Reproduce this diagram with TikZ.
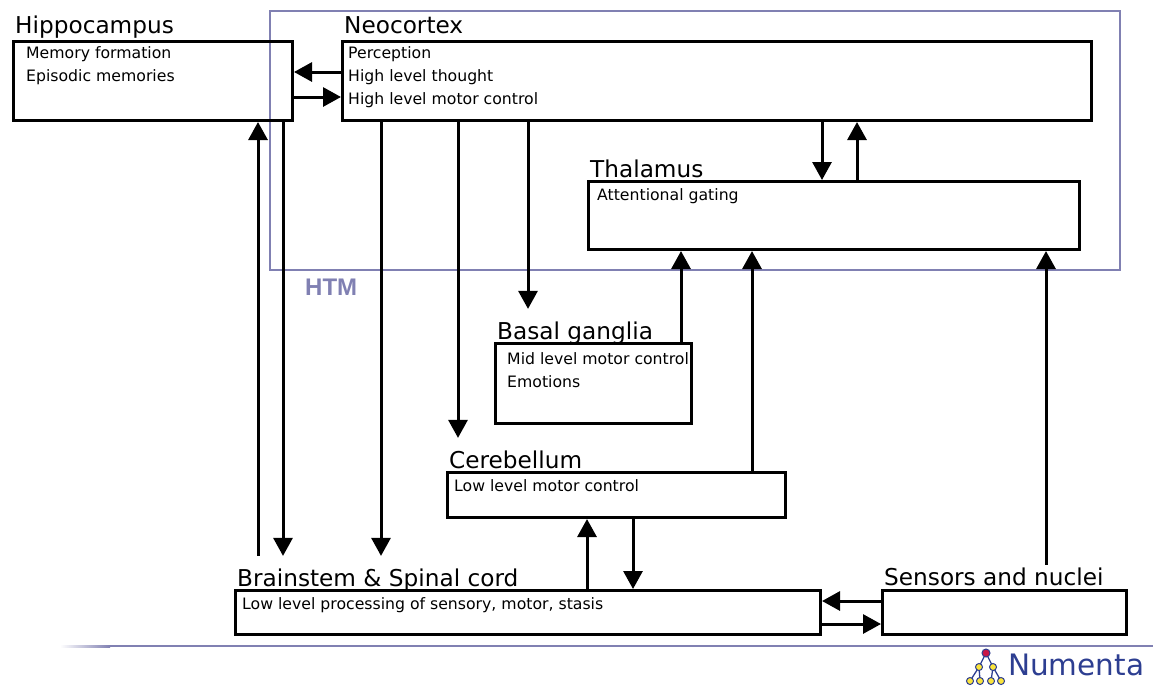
\documentclass[tikz,border=0pt]{standalone}
\usepackage{fontspec}
\setmainfont{DejaVu Sans}
\newfontfamily\htmfont{Liberation Sans}
\usetikzlibrary{arrows.meta}
\definecolor{htm}{RGB}{128,128,178}
\definecolor{numenta}{RGB}{45,62,145}
\definecolor{dotyellow}{RGB}{250,228,60}
\definecolor{dotred}{RGB}{200,20,70}
\tikzset{
  regionbox/.style={draw, line width=3pt, inner sep=0pt, anchor=north west},
  regiontitle/.style={anchor=base west, inner sep=0pt, outer ysep=13pt, font=\fontsize{23.2}{23}\selectfont},
  regiontext/.style={anchor=north west, inner sep=0pt, align=left, font=\fontsize{15.7}{23}\selectfont},
  arr/.style={line width=3pt, -{Triangle[length=18pt,width=19pt]}},
  logodot/.style={draw=numenta, line width=1pt, fill=dotyellow},
}
% name, x, y, width, height, title, title options, text shift, text
\newcommand{\region}[9]{
  \node[regionbox, minimum width=#4pt, minimum height=#5pt] (#1) at (#2,#3) {};
  \node[regiontitle, xshift=3pt, #7] (#1T) at (#1.north west) {#6};
  \node[regiontext] (#1X) at ([shift={(#8)}]#1.north west) {#9};
}
\begin{document}
\begin{tikzpicture}[x=1pt,y=-1pt]
\useasboundingbox (0,0) rectangle (1153,689);
\draw[htm, line width=2pt] (270,11) rectangle (1120,270);
\node[anchor=base west, inner sep=0pt, text=htm, font=\htmfont\bfseries\fontsize{24}{24}\selectfont] (htmL) at (305,295) {HTM};
\region{hippo}{12}{40}{279}{79}{Hippocampus}{yshift=6.5pt}{14,6.5}{Memory formation\\Episodic memories}
\region{neo}{341}{40}{749}{79}{Neocortex}{yshift=6.5pt}{7,6.5}{Perception\\High level thought\\High level motor control}
\region{thal}{587}{180}{491}{68}{Thalamus}{yshift=2.5pt}{10,8.5}{Attentional gating}
\region{basal}{494}{342}{196}{80}{Basal ganglia}{yshift=2.5pt}{13,10.5}{Mid level motor control\\Emotions}
\region{cereb}{446}{471}{338}{45}{Cerebellum}{yshift=2.5pt}{8,8.5}{Low level motor control}
\region{brain}{234}{589}{585}{44}{Brainstem \& Spinal cord}{yshift=2.5pt}{8,8.5}{Low level processing of sensory, motor, stasis}
\region{sens}{881}{589}{244}{44}{Sensors and nuclei}{yshift=3.5pt, outer ysep=3pt}{8,8.5}{}
% hippocampus <-> neocortex
\draw[arr] (neo.west |- 0,72) -- (hippo.east |- 0,72);
\draw[arr] (hippo.east |- 0,97) -- (neo.west |- 0,97);
% down to the brainstem
\draw[arr] (258,0 |- brainT.north) -- (258,0 |- hippo.south);
\draw[arr] (283,0 |- hippo.south) -- (283,0 |- brainT.north);
\draw[arr] (381,0 |- neo.south) -- (381,0 |- brainT.north);
\draw[arr] (458,0 |- neo.south) -- (458,0 |- cerebT.north);
\draw[arr] (528,0 |- neo.south) -- (528,0 |- basalT.north);
% thalamus
\draw[arr] (822,0 |- neo.south) -- (822,0 |- thal.north);
\draw[arr] (857,0 |- thal.north) -- (857,0 |- neo.south);
\draw[arr] (681,0 |- basal.north) -- (681,0 |- thal.south);
\draw[arr] (752,0 |- cereb.north) -- (752,0 |- thal.south);
\draw[arr] (1046,0 |- sensT.north) -- (1046,0 |- thal.south);
% brainstem, cerebellum, sensors
\draw[arr] (587,0 |- brain.north) -- (587,0 |- cereb.south);
\draw[arr] (633,0 |- cereb.south) -- (633,0 |- brain.north);
\draw[arr] (sens.west |- 0,601) -- (brain.east |- 0,601);
\draw[arr] (brain.east |- 0,624) -- (sens.west |- 0,624);
% footer
\shade[left color=white, right color=htm] (60,645) rectangle (110,647);
\draw[htm, line width=2pt] (110,646) -- (1153,646);
\coordinate (lgtop) at (986,653);
\coordinate (lgl) at (979,667);
\coordinate (lgr) at (993,667);
\draw[numenta, line width=1.3pt] (lgl) -- (lgtop) -- (lgr);
\foreach \x in {970,980}{\draw[numenta, line width=1.3pt] (lgl) -- (\x,681);}
\foreach \x in {991,1001}{\draw[numenta, line width=1.3pt] (lgr) -- (\x,681);}
\foreach \x in {970,980,991,1001}{\draw[logodot] (\x,681) circle (3.5pt);}
\draw[logodot] (lgl) circle (3.5pt);
\draw[logodot] (lgr) circle (3.5pt);
\draw[draw=numenta, line width=1pt, fill=dotred] (lgtop) circle (4pt);
\node[anchor=base west, inner sep=0pt, text=numenta, font=\fontsize{29.5}{30}\selectfont] (numenta) at (1008,675) {Numenta};
\end{tikzpicture}
\end{document}
